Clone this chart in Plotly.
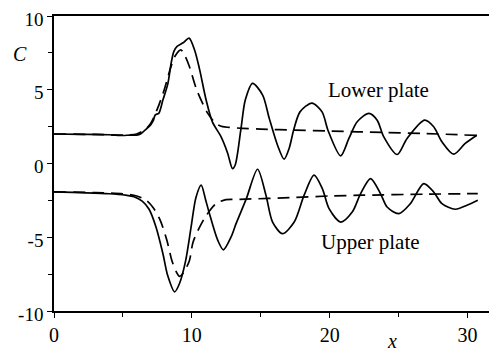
import plotly.graph_objects as go

# Lower plate, solid
lower_solid_x = [0, 2, 4, 5.0, 5.5, 6.0, 6.3, 6.6, 7.0, 7.2, 7.35, 7.6, 7.9, 8.26, 8.5, 8.7, 8.95, 9.4, 9.8,
                 10.2, 10.56, 11.04, 11.5, 12.1, 12.6, 12.95, 13.15, 13.57, 13.88, 14.41, 15.14, 15.62, 16.22,
                 16.7, 17.06, 17.4, 17.85, 18.72, 19.45, 19.9, 20.8, 21.4, 22.0, 22.85, 23.45, 23.93, 24.9,
                 25.62, 26.9, 27.55, 28.15, 29.0, 29.84, 30.68]
lower_solid_y = [2.0, 1.98, 1.95, 1.9, 1.93, 1.92, 2.02, 2.26, 2.6, 2.9, 3.3, 3.4, 4.3, 5.4, 6.8, 7.6, 7.95, 8.2, 8.5,
                 7.7, 6.4, 4.3, 2.8, 1.85, 0.7, -0.35, -0.1, 2.38, 4.3, 5.43, 4.64, 3.06, 1.24,
                 0.29, 1.02, 2.3, 3.5, 4.1, 3.5, 2.2, 0.52, 1.7, 2.83, 3.4, 2.94, 1.81, 0.61,
                 1.7, 2.94, 2.49, 1.47, 0.63, 1.36, 1.92]

# Lower plate, dashed
lower_dash_x = [0, 3, 5, 6, 6.6, 7.0, 7.5, 8.0, 8.5, 8.8, 9.2, 9.5, 9.83, 10.36, 11.16, 11.76, 12.24, 12.7,
                13.69, 15, 17.5, 20, 24, 27, 30.7]
lower_dash_y = [2.0, 1.97, 1.93, 2.0, 2.3, 2.7, 3.7, 5.0, 6.6, 7.3, 7.7, 7.3, 6.56, 4.98, 3.4, 2.7, 2.5, 2.45,
                2.38, 2.33, 2.26, 2.2, 2.1, 2.03, 1.9]

# Upper plate, solid
upper_solid_x = [0, 2, 4, 5.2, 5.8, 6.4, 6.9, 7.4, 7.9, 8.25, 8.75, 9.1, 9.55, 9.95, 10.3, 10.68, 11.0, 11.28,
                 11.88, 12.29, 12.85, 13.21, 13.95, 14.77, 15.38, 15.86, 16.58, 17.43, 18.15, 18.87, 19.47,
                 19.96, 20.8, 21.64, 22.25, 22.97, 23.69, 24.17, 25.02, 25.86, 26.83, 27.55, 28.15, 29.12,
                 29.96, 30.75]
upper_solid_y = [-1.93, -1.98, -2.05, -2.15, -2.25, -2.55, -3.1, -4.3, -6.1, -7.6, -8.7, -8.15, -6.6, -4.3, -2.3,
                 -1.47, -2.45, -3.4, -5.2, -5.85, -4.98, -4.08, -2.4, -0.39, -2.15, -3.97, -4.76, -3.97, -2.15,
                 -0.79, -1.7, -3.06, -3.97, -3.29, -2.04, -1.02, -2.04, -2.95, -3.4, -2.72, -1.36, -1.93,
                 -2.72, -3.1, -2.83, -2.49]

# Upper plate, dashed
upper_dash_x = [0, 3, 5, 6.0, 6.7, 7.2, 7.71, 8.19, 8.55, 8.85, 9.11, 9.4, 9.83, 10.1, 10.9, 11.76, 12.48,
                13.45, 17.5, 20, 22.4, 27, 30.75]
upper_dash_y = [-1.93, -1.97, -2.05, -2.2, -2.5, -3.0, -3.85, -5.2, -6.57, -7.3, -7.65, -7.4, -6.57, -5.3,
                -3.74, -2.72, -2.45, -2.43, -2.3, -2.2, -2.15, -2.08, -2.04]

x_ticks = [0, 10, 20, 30]
x_ticklabels = ["0", "10", "20", "30"]
x_minor = [5, 15, 25]
y_ticks = [-10, -5, 0, 5, 10]
y_ticklabels = ["-10", "-5", "0", "5", "10"]
y_minor = [-7.5, -2.5, 2.5, 7.5]

FONT = "Liberation Serif, Times New Roman, serif"

fig = go.Figure()
for xs, ys, dash in [(lower_solid_x, lower_solid_y, "solid"), (lower_dash_x, lower_dash_y, "12px,7px"),
                     (upper_solid_x, upper_solid_y, "solid"), (upper_dash_x, upper_dash_y, "12px,7px")]:
    fig.add_trace(go.Scatter(x=xs, y=ys, mode="lines",
                             line=dict(color="black", width=1.7, dash=dash, shape="spline", smoothing=0.8),
                             showlegend=False, hoverinfo="skip"))

axis_common = dict(showline=True, linecolor="black", linewidth=1.5, mirror=True, showgrid=False,
                   zeroline=False, ticks="outside", ticklen=5, tickwidth=1.3, tickcolor="black",
                   automargin=False, ticklabeloverflow="allow")

fig.update_xaxes(range=[0, 32], tickmode="array", tickvals=x_ticks, ticktext=x_ticklabels,
                 tickfont=dict(family=FONT, size=20, color="black"),
                 minor=dict(tickmode="array", tickvals=x_minor, ticks="outside", ticklen=4,
                            tickwidth=1.3, tickcolor="black", showgrid=False),
                 **axis_common)
fig.update_yaxes(range=[-10, 10], tickmode="array", tickvals=y_ticks, ticktext=y_ticklabels,
                 tickfont=dict(family=FONT, size=19, color="black"), ticklabelshift=3,
                 minor=dict(tickmode="array", tickvals=y_minor, ticks="outside", ticklen=4,
                            tickwidth=1.3, tickcolor="black", showgrid=False),
                 **axis_common)

ann = dict(showarrow=False, xanchor="center", yanchor="middle")
fig.add_annotation(x=23.55, y=4.97, xref="x", yref="y", text="Lower plate",
                   font=dict(family=FONT, size=21, color="black"), **ann)
fig.add_annotation(x=22.97, y=-5.35, xref="x", yref="y", text="Upper plate",
                   font=dict(family=FONT, size=21, color="black"), **ann)
fig.add_annotation(x=-0.078, y=0.872, xref="paper", yref="paper", text="<i>C</i>",
                   font=dict(family=FONT, size=20, color="black"), **ann)
fig.add_annotation(x=0.766, y=-0.1458, xref="paper", yref="paper", text="<i>x</i>",
                   showarrow=False, xanchor="center", yanchor="bottom",
                   font=dict(family=FONT, size=20, color="black"))

# page body has an 8px margin, so the figure is sized/offset to put the plot frame where the reference has it
fig.update_layout(width=489, height=346, margin=dict(l=46, r=2, t=8, b=43, autoexpand=False),
                  plot_bgcolor="white", paper_bgcolor="white")

fig.write_html("out.html")
